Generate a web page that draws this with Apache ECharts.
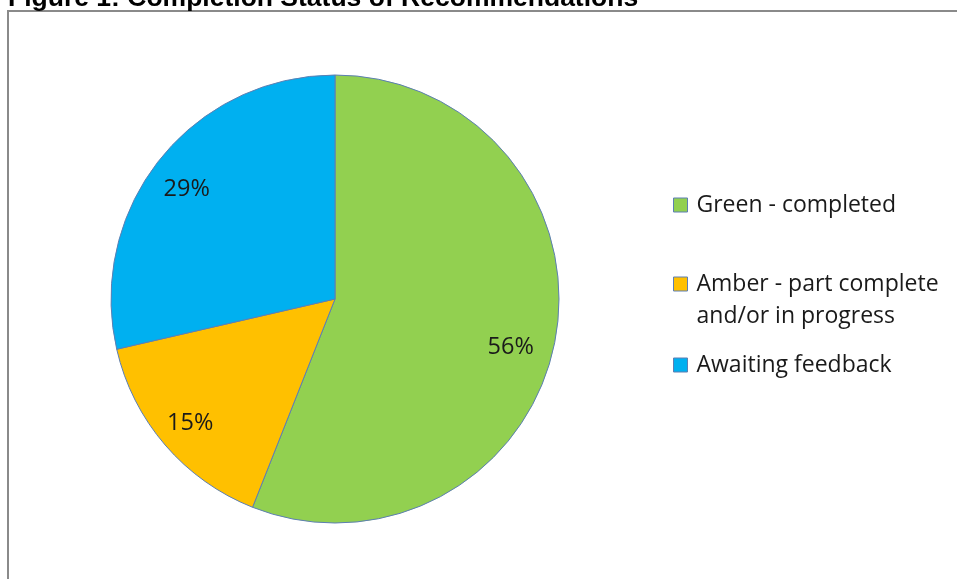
<!DOCTYPE html>
<html>
<head>
<meta charset="utf-8">
<script src="https://cdn.jsdelivr.net/npm/echarts@6/dist/echarts.min.js"></script>
<style>
  html, body { margin: 0; padding: 0; background: #fff; }
  #chart { width: 957px; height: 579px; }
</style>
</head>
<body>
<div id="chart"></div>
<script>
// values (share of recommendations, %)
const categories = ['Green - completed', 'Amber - part complete and/or in progress', 'Awaiting feedback'];
const shares = [56, 15.4, 28.6];
const colours = ['#92D050', '#FFC000', '#00B0F0'];

const chartTitle = 'Figure 1: Completion Status of Recommendations';
const labelFont = '"Open Sans", "Liberation Sans", sans-serif';
// small nudges so the % labels sit where Excel put them
const labelNudge = [[-8, 13], [-3, 2], [-2, 7]];

const pieData = categories.map((name, i) => ({
  name: name,
  value: shares[i],
  itemStyle: { color: colours[i] }
}));

const chart = echarts.init(document.getElementById('chart'), null, { renderer: 'canvas' });

// one legend per item so the uneven vertical spacing can be kept
function legendFor(name, top, twoLines) {
  return {
    data: [name],
    orient: 'vertical',
    left: 673,
    top: top,
    padding: 0,
    itemWidth: 14,
    itemHeight: twoLines ? 46 : 14,
    // for the wrapped entry the square sits level with the first line
    icon: twoLines ? 'path://M0,0L14,0L14,14L0,14Z M0,46L0,46' : 'rect',
    selectedMode: false,
    itemStyle: { borderColor: '#5d7fb3', borderWidth: 1 },
    formatter: n => n.replace(' and/or', '\nand/or'),
    textStyle: {
      fontFamily: labelFont,
      fontSize: 23,
      lineHeight: 32,
      color: '#1a1a1a',
      padding: [0, 0, 0, 4]
    }
  };
}

chart.setOption({
  animation: false,
  backgroundColor: '#fff',
  title: {
    text: chartTitle,
    left: 8,
    top: -15,
    padding: 0,
    textStyle: {
      fontFamily: '"Liberation Sans", Arial, sans-serif',
      fontWeight: 'bold',
      fontSize: 26.5,
      color: '#000'
    }
  },
  graphic: [{
    type: 'rect',
    shape: { x: 8, y: 11, width: 1200, height: 900 },
    style: { fill: 'none', stroke: '#8a8a8a', lineWidth: 2 },
    silent: true
  }],
  legend: [
    legendFor(categories[0], 189),
    legendFor(categories[1], 268, true),
    legendFor(categories[2], 349)
  ],
  series: [
    {
      type: 'pie',
      center: [335, 299],
      radius: [0, 224],
      startAngle: 90,
      clockwise: true,
      percentPrecision: 0,
      data: pieData,
      itemStyle: { borderColor: '#5d7fb3', borderWidth: 1 },
      label: { show: false },
      labelLine: { show: false },
      emphasis: { disabled: true }
    },
    {
      // invisible copy, only there to put the labels further out than 'inside' does
      type: 'pie',
      center: [335, 299],
      radius: [0, 368],
      startAngle: 90,
      clockwise: true,
      percentPrecision: 0,
      silent: true,
      data: pieData.map((d, i) => ({
        name: d.name,
        value: d.value,
        label: { offset: labelNudge[i] }
      })),
      itemStyle: { color: 'rgba(0,0,0,0)', borderWidth: 0 },
      label: {
        show: true,
        position: 'inside',
        formatter: '{d}%',
        fontFamily: labelFont,
        fontSize: 23.5,
        color: '#1a1a1a'
      },
      labelLine: { show: false },
      emphasis: { disabled: true }
    }
  ]
});

window.addEventListener('resize', () => chart.resize());
</script>
</body>
</html>
